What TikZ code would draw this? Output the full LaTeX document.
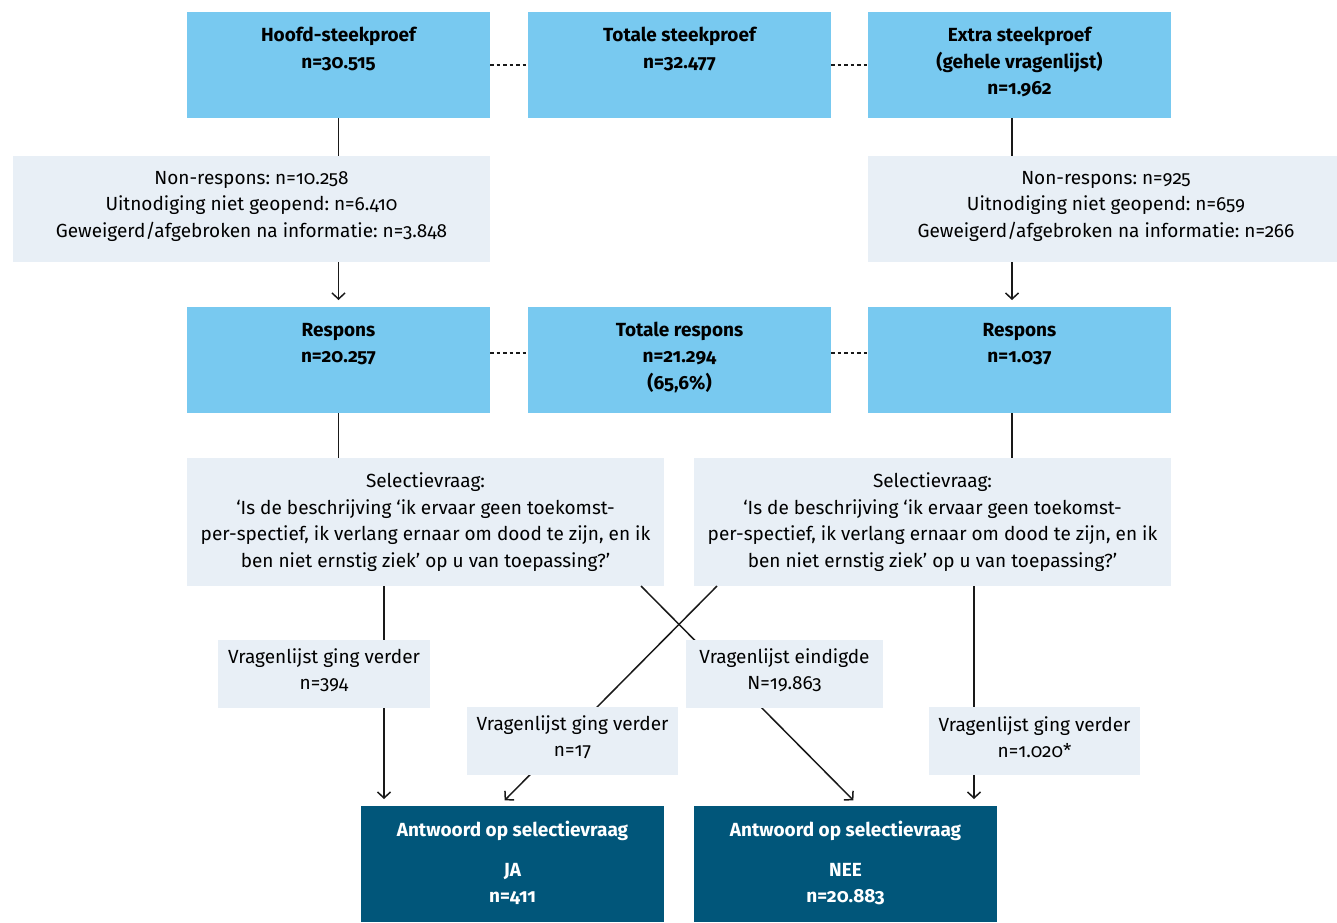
\documentclass[tikz,border=0pt]{standalone}
\usepackage{fontspec}
\setmainfont{Fira Sans}[Numbers=OldStyle]
\usetikzlibrary{arrows.meta}
\definecolor{lblue}{HTML}{78C9F0}
\definecolor{lgrey}{HTML}{E8EFF6}
\definecolor{dblue}{HTML}{01567A}
\frenchspacing
\tikzset{
  box/.style={inner sep=0pt,outer sep=0pt,anchor=north west},
  bluebox/.style={box,fill=lblue,minimum width=303pt,minimum height=106pt},
  greybox/.style={box,fill=lgrey},
  darkbox/.style={box,fill=dblue,minimum width=303pt,minimum height=116pt},
  txt/.style={inner sep=0pt,align=center,font=\fontsize{19}{26.5}\selectfont},
  btxt/.style={txt,font=\fontsize{19}{26.5}\selectfont\bfseries},
  wtxt/.style={btxt,text=white},
  conn/.style={line width=1.5pt,black!90},
  arr/.style={conn,-{Straight Barb[length=6pt,width=13pt,line width=1.5pt]}},
  dots/.style={line width=1.2pt,black!90,dash pattern=on 3.5pt off 3pt}
}
\begin{document}
\begin{tikzpicture}[x=1pt,y=-1pt]
\useasboundingbox (0,0) rectangle (1337,922);
% top row
\node[bluebox] (b1) at (187,12) {};
\node[bluebox] (b2) at (528,12) {};
\node[bluebox] (b3) at (868,12) {};
\node[btxt] (tb1) at (338.5,49) {Hoofd-steekproef\\n=30.515};
\node[btxt] (tb2) at (679.5,49) {Totale steekproef\\n=32.477};
\node[btxt] (tb3) at (1019.5,62) {Extra steekproef\\(gehele vragenlijst)\\n=1.962};
\draw[dots] (b1.east) -- (b2.west);
\draw[dots] (b2.east) -- (b3.west);
% non-response
\node[greybox,minimum width=477pt,minimum height=106pt] (g1) at (13,156) {};
\node[greybox,minimum width=469pt,minimum height=106pt] (g2) at (868,156) {};
\node[txt] (tg1) at (251.5,206) {Non-respons: n=10.258\\Uitnodiging niet geopend: n=6.410\\Geweigerd/afgebroken na informatie: n=3.848};
\node[txt] (tg2) at (1106,206) {Non-respons: n=925\\Uitnodiging niet geopend: n=659\\Geweigerd/afgebroken na informatie: n=266};
% response row
\node[bluebox] (r1) at (187,307) {};
\node[bluebox] (r2) at (528,307) {};
\node[bluebox] (r3) at (868,307) {};
\node[btxt] (tr1) at (338.5,344) {Respons\\n=20.257};
\node[btxt] (tr2) at (679.5,357) {Totale respons\\n=21.294\\(65,6\%)};
\node[btxt] (tr3) at (1019.5,344) {Respons\\n=1.037};
\draw[dots] ([yshift=7pt]r1.east) -- ([yshift=7pt]r2.west);
\draw[dots] ([yshift=7pt]r2.east) -- ([yshift=7pt]r3.west);
% connectors top
\draw[conn] (b1.south) -- (b1.south |- g1.north);
\draw[conn] ([xshift=-7.5pt]b3.south) -- ([xshift=-7.5pt]b3.south |- g2.north);
\draw[arr,shorten >=7pt] (r1.north |- g1.south) -- (r1.north);
\draw[arr,shorten >=7pt] ([xshift=-7.5pt]r3.north |- g2.south) -- ([xshift=-7.5pt]r3.north);
% selection boxes
\node[greybox,minimum width=477pt,minimum height=128pt] (s1) at (187,458) {};
\node[greybox,minimum width=477pt,minimum height=128pt] (s2) at (694,458) {};
\draw[conn] (r1.south) -- (r1.south |- s1.north);
\draw[conn] ([xshift=-7.5pt]r3.south) -- ([xshift=-7.5pt]r3.south |- s2.north);
\node[txt] (ts1) at (425.5,522) {Selectievraag:\\‘Is de beschrijving ‘ik ervaar geen toekomst-\\per-spectief, ik verlang ernaar om dood te zijn, en ik\\ben niet ernstig ziek’ op u van toepassing?’};
\node[txt] (ts2) at (932.5,522) {Selectievraag:\\‘Is de beschrijving ‘ik ervaar geen toekomst-\\per-spectief, ik verlang ernaar om dood te zijn, en ik\\ben niet ernstig ziek’ op u van toepassing?’};
% bottom boxes
\node[darkbox] (d1) at (361,806) {};
\node[darkbox] (d2) at (694,806) {};
\node[wtxt] (td1) at (512.5,863) {Antwoord op selectievraag\\[13pt]JA\\n=411};
\node[wtxt] (td2) at (845.5,863) {Antwoord op selectievraag\\[13pt]NEE\\n=20.883};
% coordinates for connector ends
\coordinate (a1s) at (384,586);
\coordinate (a1e) at (384,806);
\coordinate (x1s) at (641,586);
\coordinate (x1e) at (859,806);
\coordinate (x2s) at (717,586);
\coordinate (x2e) at (499,806);
\coordinate (a4s) at (974,586);
\coordinate (a4e) at (974,806);
% connectors bottom (drawn before label boxes so boxes cover them)
\draw[arr,shorten >=7pt] (a1s) -- (a1e);
\draw[arr,shorten >=8pt] (x1s) -- (x1e);
\draw[arr,shorten >=8pt] (x2s) -- (x2e);
\draw[arr,shorten >=7pt] (a4s) -- (a4e);
% label boxes
\node[greybox,minimum width=212pt,minimum height=68pt] (l1) at (218,640) {};
\node[greybox,minimum width=197pt,minimum height=68pt] (l2) at (686,640) {};
\node[greybox,minimum width=211pt,minimum height=68pt] (l3) at (467,707) {};
\node[greybox,minimum width=211pt,minimum height=68pt] (l4) at (929,707) {};
\node[txt] (tl1) at (324,670) {Vragenlijst ging verder\\n=394};
\node[txt] (tl2) at (784.5,670) {Vragenlijst eindigde\\N=19.863};
\node[txt] (tl3) at (572.5,737) {Vragenlijst ging verder\\n=17};
\node[txt] (tl4) at (1034.5,737) {Vragenlijst ging verder\\n=1.020*};
\end{tikzpicture}
\end{document}
